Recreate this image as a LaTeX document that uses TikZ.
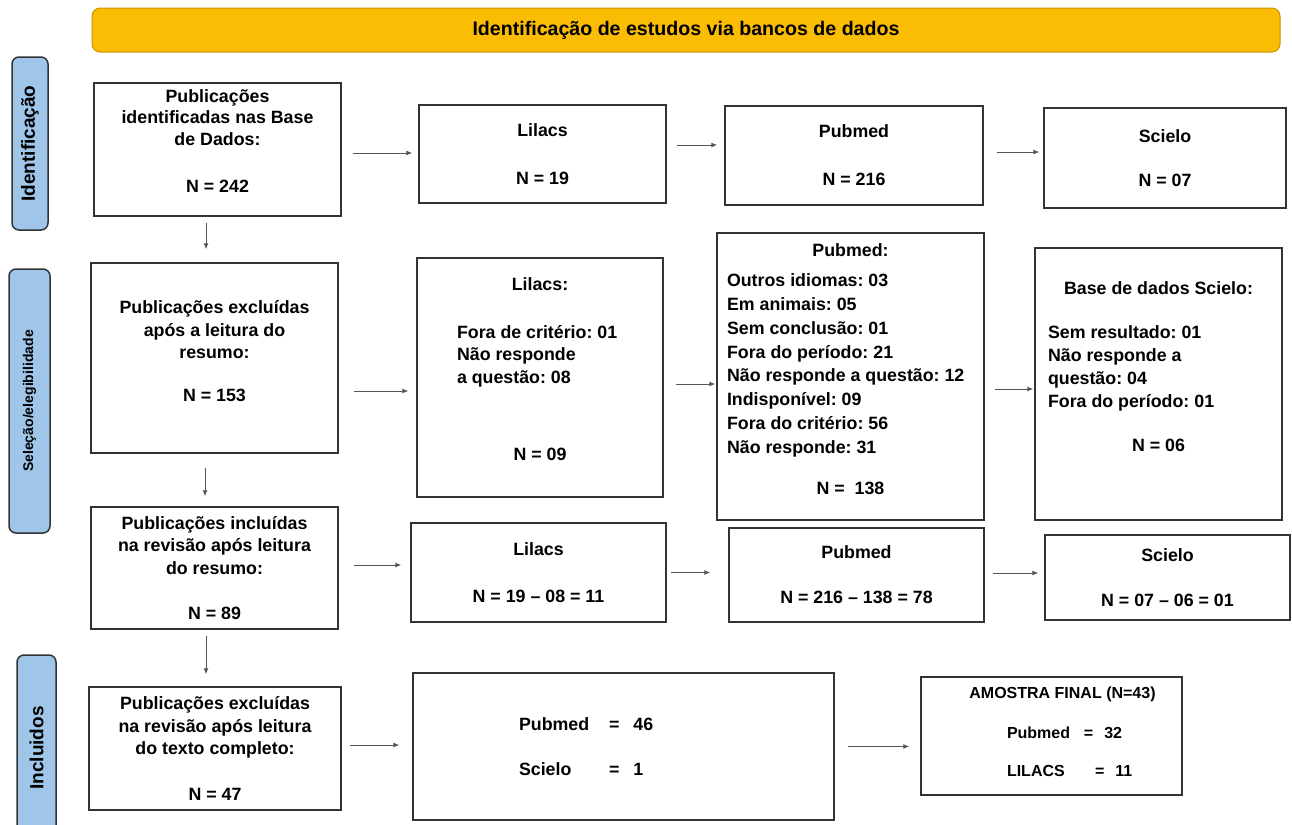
\documentclass[tikz,border=0pt]{standalone}
\usepackage{fontspec}
\setmainfont{Liberation Sans}
\usetikzlibrary{arrows.meta}
\definecolor{hdrfill}{HTML}{FBBC04}
\definecolor{hdrline}{HTML}{C79500}
\definecolor{lblfill}{HTML}{9FC5E8}
\definecolor{lineg}{HTML}{333333}
\definecolor{arrg}{HTML}{555555}
\newcommand{\lft}[2]{\makebox[#1][l]{#2}}
\frenchspacing

\begin{document}
\begin{tikzpicture}[x=0.5pt,y=-0.5pt,
box/.style={draw=lineg,line width=0.75pt,align=center,inner sep=0pt,font=\fontsize{8.9}{11.25}\selectfont\bfseries},
arr/.style={-{Latex[length=3pt,width=2.6pt]},draw=arrg,line width=0.5pt,shorten <=5pt,shorten >=3pt},
stage/.style={draw=lineg,line width=0.75pt,fill=lblfill,rounded corners=3.5pt,rotate=90,inner sep=0pt,font=\fontsize{9.5}{11}\selectfont\bfseries},
hdr/.style={draw=hdrline,line width=0.5pt,fill=hdrfill,rounded corners=4pt,font=\fontsize{9.8}{11}\selectfont\bfseries}]
\useasboundingbox (0,0) rectangle (1292,825);
\node[hdr,minimum width=594pt,minimum height=22pt] (title) at (686,30) {Identificação de estudos via bancos de dados};
\node[stage,minimum width=86.5pt,minimum height=18pt] (sid) at (30,143.5) {Identificação};
\node[stage,minimum width=132pt,minimum height=20.5pt,font=\fontsize{7}{8}\selectfont\bfseries] (ssel) at (29.5,401) {Seleção/elegibilidade};
\node[stage,minimum width=93pt,minimum height=19.5pt] (sinc) at (36.5,748) {Incluidos};
% identificacao
\node[box,minimum width=123.5pt,minimum height=66.5pt,font=\fontsize{8.9}{10.75}\selectfont\bfseries] (idbd) at (217.5,149.5) {Publicações\\identificadas nas Base\\de Dados:\\[12.75pt]N = 242\\[-2.25pt]\mbox{}};
\node[box,minimum width=123.5pt,minimum height=49pt] (idlil) at (542.5,154) {Lilacs\\[12.75pt]N = 19};
\node[box,minimum width=129pt,minimum height=49.5pt] (idpub) at (854,155.5) {Pubmed\\[12.75pt]N = 216};
\node[box,minimum width=121pt,minimum height=50pt] (idsci) at (1165,158) {Scielo\\[10.75pt]N = 07};
% selecao
\node[box,minimum width=123.5pt,minimum height=95pt] (exres) at (214.5,358) {Publicações excluídas\\após a leitura do\\resumo:\\[10.25pt]N = 153\\[-4.25pt]\mbox{}};
\node[box,minimum width=123pt,minimum height=119.5pt] (exlil) at (540,377.5) {Lilacs:\\[12.75pt]\lft{83pt}{Fora de critério: 01}\\\lft{83pt}{Não responde}\\\lft{83pt}{a questão: 08}\\[27.25pt]N = 09\\[-2.75pt]\mbox{}};
\node[box,minimum width=133.5pt,minimum height=143.5pt,font=\fontsize{8.9}{11.95}\selectfont\bfseries] (expub) at (850.5,376.5) {Pubmed:\\[3.05pt]\lft{123.5pt}{Outros idiomas: 03}\\\lft{123.5pt}{Em animais: 05}\\\lft{123.5pt}{Sem conclusão: 01}\\\lft{123.5pt}{Fora do período: 21}\\\lft{123.5pt}{Não responde a questão: 12}\\\lft{123.5pt}{Indisponível: 09}\\\lft{123.5pt}{Fora do critério: 56}\\\lft{123.5pt}{Não responde: 31}\\[8.55pt]N =~ 138\\[-4.45pt]\mbox{}};
\node[box,minimum width=123.5pt,minimum height=136pt,font=\fontsize{8.9}{11.5}\selectfont\bfseries] (exsci) at (1158.5,384) {Base de dados Scielo:\\[10.5pt]\lft{110.5pt}{Sem resultado: 01}\\\lft{110.5pt}{Não responde a}\\\lft{110.5pt}{questão: 04}\\\lft{110.5pt}{Fora do período: 01}\\[10.5pt]N = 06\\[6pt]\mbox{}};
% incluidas
\node[box,minimum width=123.5pt,minimum height=61pt] (inres) at (214.5,568) {Publicações incluídas\\na revisão após leitura\\do resumo:\\[11.25pt]N = 89};
\node[box,minimum width=127.5pt,minimum height=49.5pt] (inlil) at (538.5,572.5) {Lilacs\\[12.25pt]N = 19 – 08 = 11};
\node[box,minimum width=127.5pt,minimum height=47pt] (inpub) at (856.5,575) {Pubmed\\[11.25pt]N = 216 – 138 = 78};
\node[box,minimum width=122.5pt,minimum height=42.5pt] (insci) at (1167.5,577.5) {Scielo\\[11.25pt]N = 07 – 06 = 01};
% texto completo
\node[box,minimum width=126pt,minimum height=61.5pt] (extxt) at (215,748.5) {Publicações excluídas\\na revisão após leitura\\do texto completo:\\[11.75pt]N = 47};
\node[box,minimum width=210.5pt,minimum height=73.5pt] (extot) at (623.5,746.5) {\lft{104.5pt}{\makebox[38pt][l]{Pubmed}\hspace{7pt}=\hspace{7pt}46}\\[11.25pt]\lft{104.5pt}{\makebox[38pt][l]{Scielo}\hspace{7pt}=\hspace{7pt}1}};
\node[box,minimum width=130.5pt,minimum height=59pt,font=\fontsize{8}{10}\selectfont\bfseries] (final) at (1051.5,736) {\hspace*{11pt}AMOSTRA FINAL (N=43)\\[10pt]\lft{44.5pt}{\makebox[38.5pt][l]{Pubmed}=\hspace{5.5pt}32}\\[9.2pt]\lft{44.5pt}{\makebox[44pt][l]{LILACS}=\hspace{5.5pt}11}\\[-5.5pt]\mbox{}};
% setas
\draw[arr,shorten <=5.5pt] ([yshift=-1.75pt]idbd.east) -- ([yshift=-1.75pt]idbd.east -| idlil.west);
\draw[arr,shorten >=3.5pt] ([yshift=4.5pt]idlil.east) -- ([yshift=4.5pt]idlil.east -| idpub.west);
\draw[arr,shorten <=6.5pt,shorten >=2pt] ([yshift=1.75pt]idpub.east) -- ([yshift=1.75pt]idpub.east -| idsci.west);
\draw[arr,shorten <=7.5pt,shorten >=4pt] ([yshift=-16.5pt]exres.east) -- ([yshift=-16.5pt]exres.east -| exlil.west);
\draw[arr,shorten <=6pt,shorten >=0.5pt] ([yshift=-3.25pt]exlil.east) -- ([yshift=-3.25pt]exlil.east -| expub.west);
\draw[arr,shorten >=0.5pt] ([yshift=-6.25pt]expub.east) -- ([yshift=-6.25pt]expub.east -| exsci.west);
\draw[arr,shorten <=7.5pt,shorten >=4.5pt] ([yshift=1.5pt]inres.east) -- ([yshift=1.5pt]inres.east -| inlil.west);
\draw[arr,shorten <=2pt,shorten >=9pt] (inlil.east) -- (inlil.east -| inpub.west);
\draw[arr,shorten <=4pt] ([yshift=1pt]inpub.east) -- ([yshift=1pt]inpub.east -| insci.west);
\draw[arr,shorten <=4pt,shorten >=6.5pt] ([yshift=1.75pt]extxt.east) -- ([yshift=1.75pt]extxt.east -| extot.west);
\draw[arr,shorten <=6.5pt,shorten >=5.5pt] (extot.east) -- (extot.east -| final.west);
\draw[arr,shorten <=3pt,shorten >=6.5pt] ([xshift=-5.75pt]idbd.south) -- ([xshift=-5.75pt]idbd.south |- exres.north);
\draw[arr,shorten <=7pt,shorten >=5pt] ([xshift=-4.75pt]exres.south) -- ([xshift=-4.75pt]exres.south |- inres.north);
\draw[arr,shorten <=3pt,shorten >=6pt] ([xshift=-4.25pt]inres.south) -- ([xshift=-4.25pt]inres.south |- extxt.north);
\end{tikzpicture}
\end{document}
